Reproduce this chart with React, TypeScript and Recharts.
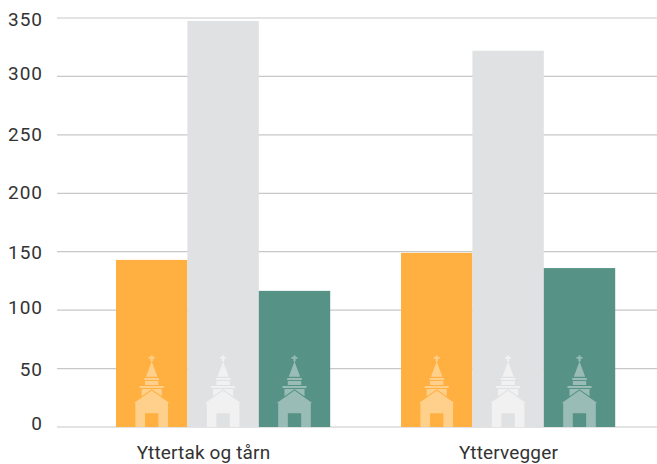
import React from "react";
import { BarChart, Bar, XAxis, YAxis, CartesianGrid } from "recharts";

const categories = ["Yttertak og tårn", "Yttervegger"];
const orangeValues = [143, 149];
const greyValues = [347.5, 322];
const greenValues = [116.5, 136];
const yTicks = [0, 50, 100, 150, 200, 250, 300, 350];
const yLabelShift = [-3.5, 1, -3, 0.7, -0.5, 0, -3, 1];
const xLabelShift = [-20, 0];

const rows = categories.map((name, i) => ({
  name,
  orange: orangeValues[i],
  grey: greyValues[i],
  green: greenValues[i],
}));

const FONT = "Roboto, sans-serif";

const Church = (props: any) => {
  const { x, y, width, height, fill, alpha } = props;
  const base = y + height;
  const cx = x + width / 2;
  return (
    <g>
      <rect x={x} y={y} width={width} height={height} fill={fill} />
      <g transform={`translate(${cx},${base})`} fill="#fff" fillOpacity={alpha}>
        <path d="M-1.1,-71.5H1.1V-65.5H-1.1Z" />
        <path d="M-3,-70H-1.1V-68.3H-3ZM1.1,-70H3V-68.3H1.1Z" />
        <path d="M0,-65.5L5.7,-50.3H-5.7Z" />
        <path d="M-7.3,-49H7.3V-47H-7.3Z" />
        <path d="M-6.7,-46H6.7V-42H-6.7Z" />
        <path d="M-12,-41H12V-39H-12Z" />
        <path d="M-10,-38H10V-30.7L0,-37.8L-10,-30.7Z" />
        <path d="M0,-36.5L17.7,-24H16.3V0H6.7V-13.7H-6.7V0H-16.3V-24H-17.7Z" />
      </g>
    </g>
  );
};

const XTick = (props: any) => {
  const { x, payload } = props;
  return (
    <text
      x={x + xLabelShift[payload.index]}
      y={452}
      textAnchor="middle"
      dominantBaseline="central"
      fontFamily={FONT}
      fontSize={19}
      letterSpacing={0.15}
      fill="#333"
    >
      {payload.value}
    </text>
  );
};

const YTick = (props: any) => {
  const { x, y, payload } = props;
  return (
    <text
      x={x}
      y={y}
      dy={yLabelShift[yTicks.indexOf(payload.value)]}
      textAnchor="end"
      dominantBaseline="central"
      fontFamily={FONT}
      fontSize={19}
      letterSpacing={1}
      fill="#333"
    >
      {payload.value}
    </text>
  );
};

export default function App() {
  return (
    <div style={{ position: "absolute", left: 0, top: 0, width: 657, height: 464 }}>
      <BarChart
        width={657}
        height={464}
        data={rows}
        margin={{ top: 18, right: 0, bottom: 0, left: 0 }}
        barSize={71.4}
        barGap={0}
      >
        <CartesianGrid vertical={false} stroke="#c8c8c8" strokeWidth={1.2} />
        <XAxis
          dataKey="name"
          height={37}
          padding={{ left: 24, right: 6 }}
          axisLine={false}
          tickLine={false}
          tick={<XTick />}
          interval={0}
        />
        <YAxis
          width={57}
          domain={[0, 350]}
          ticks={yTicks}
          axisLine={false}
          tickLine={false}
          tickMargin={8}
          tick={<YTick />}
        />
        <Bar dataKey="orange" fill="#FFB040" isAnimationActive={false} shape={(p: any) => <Church {...p} alpha={0.4} />} />
        <Bar dataKey="grey" fill="#E0E1E3" isAnimationActive={false} shape={(p: any) => <Church {...p} alpha={0.55} />} />
        <Bar dataKey="green" fill="#569285" isAnimationActive={false} shape={(p: any) => <Church {...p} alpha={0.4} />} />
      </BarChart>
    </div>
  );
}
